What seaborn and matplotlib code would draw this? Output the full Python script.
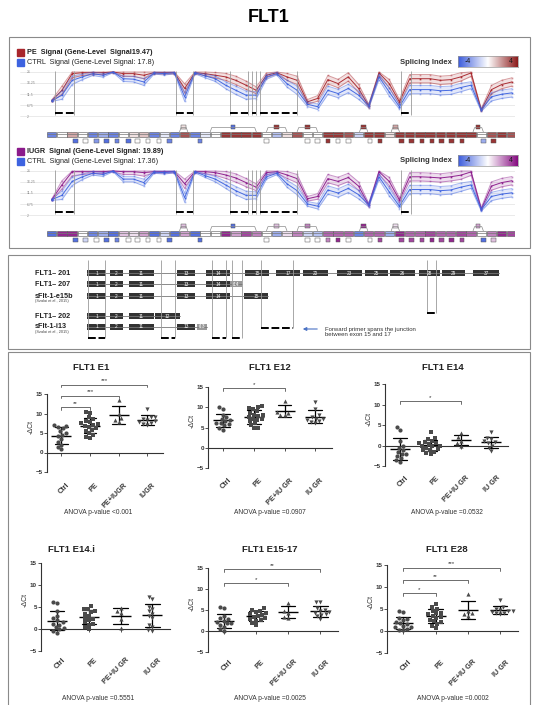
import numpy as np
import pandas as pd
import seaborn as sns
import matplotlib.pyplot as plt
import matplotlib.transforms as mtransforms
from matplotlib.colors import LinearSegmentedColormap
from matplotlib.patches import Rectangle

sns.set_theme(style="white")
plt.rcParams["font.family"] = ["Liberation Sans", "DejaVu Sans"]

W, H = 537, 705

# ---------------- panel A: probe-set signal along FLT1 (46 probe sets) ----------------
pe_signal = [8.6, 13.1, 20.3, 20.7, 20.7, 20.7, 21.0, 20.3, 20.3, 19.6, 20.7, 20.7, 20.7, 13.9, 20.7, 20.3,
             19.6, 18.9, 17.4, 15.3, 13.1, 19.6, 20.7, 18.9, 17.4, 8.1, 9.6, 17.7, 16.0, 18.9, 13.9, 6.3,
             20.6, 16.0, 8.1, 18.1, 18.1, 18.1, 17.4, 17.7, 18.9, 20.6, 4.6, 13.4, 15.6, 16.7]
ctrl_signal_pe = [8.6, 11.0, 17.4, 18.9, 20.3, 19.6, 21.0, 18.1, 17.9, 16.7, 20.6, 20.3, 20.7, 10.3, 20.7, 19.3,
                  18.1, 15.3, 13.1, 11.0, 11.0, 18.9, 20.3, 16.0, 13.1, 7.1, 6.0, 13.1, 11.7, 13.9, 11.0, 6.3,
                  18.9, 12.4, 6.0, 13.4, 13.4, 13.4, 12.9, 13.1, 14.3, 15.3, 4.6, 10.3, 11.4, 12.0]
iugr_signal = [8.6, 15.0, 20.7, 20.7, 20.7, 20.7, 21.0, 20.7, 20.7, 20.3, 20.7, 20.7, 20.7, 15.5, 20.7, 20.7,
               20.3, 19.3, 18.0, 16.0, 14.0, 20.3, 20.7, 19.3, 17.7, 9.0, 10.0, 17.7, 16.5, 18.2, 14.5, 6.3,
               20.7, 16.5, 8.5, 18.5, 18.5, 18.3, 18.0, 18.5, 19.2, 20.6, 4.6, 14.5, 16.0, 16.8]
ctrl_signal_iugr = [8.6, 10.5, 16.5, 18.5, 20.0, 19.5, 21.0, 17.5, 17.5, 16.0, 20.5, 20.3, 20.7, 9.5, 20.7, 19.0,
                    17.5, 15.0, 12.5, 10.5, 10.5, 18.5, 20.0, 15.5, 12.5, 6.8, 5.8, 12.8, 11.5, 13.5, 10.8, 6.3,
                    18.5, 12.0, 5.8, 13.0, 13.0, 13.0, 12.5, 12.8, 14.0, 15.0, 4.3, 10.0, 11.0, 11.6]
probe_spread = [0.3, 1.8, 1.8, 1.2, 0.8, 0.8, 0.3, 1.2, 1.2, 1.5, 0.5, 0.6, 0.5, 2.0, 0.5, 0.8,
                1.2, 1.5, 1.8, 1.8, 1.5, 1.0, 0.6, 1.5, 1.8, 1.0, 1.2, 1.8, 1.8, 1.8, 1.8, 0.8,
                1.2, 1.8, 1.0, 1.8, 1.8, 1.8, 1.8, 1.8, 1.8, 1.5, 0.6, 1.8, 1.8, 1.8]
signal_ticks = [2, 6.75, 11.5, 16.25, 21]

# splicing index of each probe set (main track)
pe_splicing = [-3, 0, 1.5, 0, -3, -2, -3, 0, 0.5, 1, -3, -0.5, -3, 3, -3, -0.5, 0, 3.5, 3.5, 3.5, 3.5, 0,
               -1.5, 0.5, 3, 0, 0, 3.5, 3.5, 3, -1, 3.5, 3.5, 0.5, 3.5, 3.5, 3.5, 3.5, 3.5, 3.5, 3.5, 3.5,
               0, 3, 3.5, 3]
iugr_splicing = [-3.5, 3.5, 3.5, 0, -3, -2, -3.5, 1, 0.5, 1.5, -3.5, -1, -3.5, 1.5, -3.5, 0, 0, 3.5, 1.5, 3,
                 2, 0, -2, 0.5, 2, -1, -1.5, 2.5, 2.5, 2.5, -3, 2.5, 2.5, -2, 3.5, 2.5, 2.5, 3, 2.5, 2.5, 3,
                 2.5, 0, 2, 3.5, 3]
# probe sets drawn below the main track
sub_probe_pos = [2.35, 3.3, 4.4, 5.35, 6.4, 7.5, 8.4, 9.4, 10.5, 11.5, 14.5, 21, 25, 26, 27, 28, 29,
                 31.1, 32.1, 34.2, 35.2, 36.2, 37.2, 38.1, 39.1, 40.1, 42.2, 43.2]
sub_pe_si = [-3.5, 0, -2.5, -3.5, -3, -3.5, 0, 0, 0, -3, -3, 0, 0, 0, 3.5, 0, 0,
             0, 3.5, 3.5, 3.5, 3.5, 3.5, 3.5, 3.5, 3.5, -2, 3.5]
sub_iugr_si = [-3.5, -1, 0, -3.5, -3, 0, 0, 0, 0, -3.5, -3.5, 0, 0, 0, 2, 3.5, 0,
               0, 3, 3, 3, 3, 3.5, 3, 3.5, 3, -3.5, 1]
# alternative probe sets on arcs
arc_start = [12.5, 15.5, 21.0, 24.0, 30.1, 33.2, 41.2]
arc_end = [13.3, 20.0, 23.0, 26.0, 30.9, 34.0, 42.2]
arc_pe_si = [0.5, -3.5, 3.5, 3.5, 3.5, 1.5, 3.5]
arc_iugr_si = [1, -3.5, 1, 2, 3.5, 0.5, 1.5]
primer_spans = [(0.3, 2.15), (12.2, 13.8), (17.4, 19.2), (19.6, 20.0), (20.35, 24.0), (34.2, 35.1)]

# ---------------- panel B: transcripts ----------------
transcript_names = ["FLT1– 201", "FLT1– 207", "sFlt-1-e15b", "FLT1– 202", "sFlt-1-i13"]
transcript_refs = ["", "", "(Szalai et al., 2015)", "", "(Szalai et al., 2015)"]
transcript_exons = [
    ["1", "2", "11", "13", "14", "15", "17", "20", "23", "25", "26", "28", "29", "37"],
    ["1", "2", "11", "13", "14", "i14"],
    ["1", "2", "11", "13", "14", "15b"],
    ["1", "2", "11", "12"],
    ["1", "2", "11", "13", "i13"],
]
exon_start = {"1": 87, "2": 110, "11": 129, "12": 155, "13": 177, "14": 206, "15": 245, "17": 276,
              "20": 303, "23": 337, "25": 365, "26": 390, "28": 419, "29": 442, "37": 473,
              "i14": 230, "15b": 244, "i13": 197}
exon_end = {"1": 106, "2": 123, "11": 154, "12": 180, "13": 195, "14": 230, "15": 269, "17": 300,
            "20": 328, "23": 362, "25": 388, "26": 415, "28": 440, "29": 465, "37": 499,
            "i14": 242, "15b": 268, "i13": 207}
primer_left = [88, 161, 212, 232, 261, 427]
primer_right = [105, 175, 226, 242, 293, 436]

# ---------------- panel C: qPCR -dCt ----------------
groups = ["Ctrl", "PE", "PE+IUGR", "IUGR"]
group_markers = ["o", "s", "^", "v"]

e1_ctrl = [7.0, 6.8, 6.6, 6.3, 5.5, 5.0, 4.6, 4.2, 3.5, 2.6, 2.0, 1.4, 0.8]
e1_pe = [10.5, 10.2, 9.0, 8.5, 8.0, 7.8, 7.5, 7.2, 7.0, 6.8, 6.5, 6.2, 5.8, 5.5, 5.0, 4.5, 4.0, 3.8]
e1_pe_iugr = [13.5, 9.8, 8.8, 8.3, 7.9]
e1_iugr = [11.2, 9.2, 9.0, 8.5, 8.3, 8.0, 7.8, 7.5, 7.2, 7.0]

e12_ctrl = [10.0, 9.5, 8.0, 7.5, 7.0, 6.8, 6.5, 6.2, 6.0, 5.8, 5.5, 5.0, 4.5]
e12_pe = [10.3, 10.0, 9.8, 9.5, 9.0, 8.5, 8.2, 8.0, 7.8, 7.5, 7.2, 7.0, 6.8, 6.5, 6.0, 5.5, 5.0, 4.8]
e12_pe_iugr = [11.6, 8.8, 8.5, 8.2, 8.0]
e12_iugr = [11.2, 9.5, 8.0, 7.5, 7.2, 7.0, 6.8, 6.5, 6.3, 6.2]

e14_ctrl = [4.6, 3.9, 1.0, 0.0, -0.5, -1.0, -1.5, -2.0, -2.0, -2.5, -3.0, -3.5, -4.0]
e14_pe = [3.2, 1.8, 1.5, 1.0, 0.8, 0.6, 0.5, 0.3, 0.0, 0.0, -0.2, -0.5, -0.8, -1.0, -1.2, -1.5, -1.8, -2.0]
e14_pe_iugr = [3.1, 2.0, 1.2, 0.5, 0.0]
e14_iugr = [3.3, 1.8, 1.5, 1.0, 0.8, 0.5, 0.0, -0.5, -1.3]

e14i_ctrl = [6.2, 5.8, 4.0, 3.0, 2.5, 2.0, 1.5, 1.2, 1.0, 0.5, 0.2, 0.0, -0.5, -0.8]
e14i_pe = [5.2, 4.6, 4.5, 4.2, 3.8, 3.5, 3.0, 2.5, 2.2, 2.0, 1.5, 1.2, 1.0, 0.5, 0.0]
e14i_pe_iugr = [4.8, 4.2, 3.6, 2.2, 0.3]
e14i_iugr = [7.2, 6.8, 5.0, 4.5, 4.0, 3.5, 3.0, 2.5, 1.0, 0.5, -0.3, -0.5]

e1517_ctrl = [5.6, 5.5, 3.5, 3.0, 2.8, 2.5, 2.2, 2.0, 1.8, 1.5, 1.0, 0.5, 0.0]
e1517_pe = [5.4, 5.0, 4.8, 4.5, 4.2, 4.0, 3.8, 3.5, 3.3, 3.0, 2.8, 2.5, 2.0, 1.5, 2.6]
e1517_pe_iugr = [6.7, 4.8, 4.3, 3.3, 3.2]
e1517_iugr = [7.0, 6.8, 5.5, 5.0, 4.8, 4.5, 4.3, 4.0, 3.8, 3.5, 2.8]

e28_ctrl = [4.5, 4.4, 3.0, 2.8, 2.5, 2.0, 1.8, 1.5, 1.2, 1.0, 0.8, 0.5, 0.3, 0.2]
e28_pe = [6.2, 5.5, 5.0, 4.6, 4.2, 4.0, 3.8, 3.5, 3.2, 3.0, 2.6, 2.2, 2.0, 1.5, 1.2, 0.6]
e28_pe_iugr = [8.3, 4.5, 4.0, 3.8, 3.5]
e28_iugr = [7.0, 5.5, 5.0, 4.8, 4.6, 4.5, 4.4, 4.2, 4.0, 3.8]

assay_names = ["FLT1 E1", "FLT1 E12", "FLT1 E14", "FLT1 E14.i", "FLT1 E15-17", "FLT1 E28"]
assay_values = [
    [e1_ctrl, e1_pe, e1_pe_iugr, e1_iugr],
    [e12_ctrl, e12_pe, e12_pe_iugr, e12_iugr],
    [e14_ctrl, e14_pe, e14_pe_iugr, e14_iugr],
    [e14i_ctrl, e14i_pe, e14i_pe_iugr, e14i_iugr],
    [e1517_ctrl, e1517_pe, e1517_pe_iugr, e1517_iugr],
    [e28_ctrl, e28_pe, e28_pe_iugr, e28_iugr],
]
assay_brackets = [
    [(0, 1, 11.6, "**"), (0, 2, 14.6, "***"), (0, 3, 17.4, "***")],
    [(0, 2, 14.7, "*")],
    [(0, 2, 10.8, "*")],
    [],
    [(0, 2, 11.4, "*"), (0, 3, 14.8, "**")],
    [(0, 1, 8.6, "*"), (0, 2, 11.6, "**"), (0, 3, 14.4, "***")],
]
anova_text = ["ANOVA p-value <0.001", "ANOVA p-value =0.0907", "ANOVA p-value =0.0532",
              "ANOVA p-value =0.5551", "ANOVA p-value =0.0025", "ANOVA p-value =0.0002"]
tick_e1 = ["Ctrl", "PE", "PE+IUGR", "IUGR"]
tick_other = ["Ctrl", "PE", "PE+IU GR", "IU GR"]

# ---------------- layout helpers ----------------
fig = plt.figure(figsize=(W / 100, H / 100), dpi=100)


def px_rect(x0, y0, x1, y1):
    return [x0 / W, 1 - y1 / H, (x1 - x0) / W, (y1 - y0) / H]


def frame(x0, y0, x1, y1):
    fig.add_artist(Rectangle((x0 / W, 1 - y1 / H), (x1 - x0) / W, (y1 - y0) / H,
                             transform=fig.transFigure, fill=False, edgecolor="#8a8a8a", lw=0.8))


fig.text(0.5, 1 - 18 / H, "FLT1", ha="center", va="center", fontsize=13, fontweight="bold",
         color="black")
frame(9, 37, 530, 248)
frame(8, 255, 530, 349)
frame(8, 352, 530, 712)

ctrl_color = "#3d63e0"
cmap_pe = LinearSegmentedColormap.from_list("pe", ["#3b5bdb", "#ffffff", "#8b1a1a"])
cmap_iugr = LinearSegmentedColormap.from_list("iugr", ["#3b5bdb", "#ffffff", "#850a80"])
probe_idx = np.arange(len(pe_signal))


def si_color(cmap, si):
    return cmap((si + 4) / 8)


def draw_signal(top, case_vals, ctrl_vals, case_color, case_label, ctrl_label, cmap,
                box_si, sub_si, arc_si):
    ax = fig.add_axes(px_rect(20, top - 1.16, 515, top + 45.16))
    ax.set_facecolor("none")
    spread = np.array(probe_spread)
    for vals, color in ((case_vals, case_color), (ctrl_vals, ctrl_color)):
        mean = np.array(vals)
        hi = np.minimum(mean + spread, 21)
        lo = mean - spread
        ax.fill_between(probe_idx, lo, hi, color=color, alpha=0.14, lw=0)
        for line, a in ((hi, 0.45), (lo, 0.45), (mean, 0.95)):
            sns.lineplot(x=probe_idx, y=line, color=color, lw=0.7, alpha=a, marker="s",
                         markersize=1.2, markeredgewidth=0, ax=ax, legend=False)
    ax.set_xlim(-3.1, 45.3)
    ax.set_ylim(1.5, 21.5)
    ax.set_xticks([])
    ax.set_yticks(signal_ticks)
    ax.set_yticklabels([f"{t:g}" for t in signal_ticks])
    ax.yaxis.grid(True, color="#e2e2e2", lw=0.5)
    ax.tick_params(axis="y", length=0, pad=-5, labelsize=2.5, labelcolor="#888888")
    for lab in ax.get_yticklabels():
        lab.set_ha("left")
    for s in ax.spines.values():
        s.set_visible(False)
    for s, e in primer_spans:
        ax.vlines([s, e], 2.6, 21.5, color="#9a9a9a", lw=0.6)
        ax.plot([s, e], [3.3, 3.3], color="black", lw=1.4, dashes=(4, 1.6), solid_capstyle="butt")

    # exon / probe-set track
    axb = fig.add_axes(px_rect(20, top + 50, 515, top + 74))
    axb.set_xlim(-3.1, 45.3)
    axb.set_ylim(24, 0)
    axb.axis("off")
    axb.plot([-0.5, len(box_si) - 0.5], [12.5, 12.5], color="#777777", lw=0.5)
    for i, si in enumerate(box_si):
        axb.add_patch(Rectangle((i - 0.46, 9.7), 0.92, 5.6, facecolor=si_color(cmap, si),
                                edgecolor="#555555", lw=0.4))
    for p, si in zip(sub_probe_pos, sub_si):
        axb.add_patch(Rectangle((p - 0.22, 16.6), 0.44, 4.0, facecolor=si_color(cmap, si),
                                edgecolor="#555555", lw=0.35))
    for s, e, si in zip(arc_start, arc_end, arc_si):
        axb.plot([s, s + 0.15, e - 0.15, e], [9.7, 5.6, 5.6, 9.7], color="#8a8a8a", lw=0.5)
        c = (s + e) / 2
        axb.add_patch(Rectangle((c - 0.22, 3.0), 0.44, 4.0, facecolor=si_color(cmap, si),
                                edgecolor="#555555", lw=0.35))

    # legend
    for dy, color, label, weight in ((-19.5, case_color, case_label, "bold"),
                                     (-9.5, ctrl_color, ctrl_label, "normal")):
        fig.add_artist(Rectangle((17 / W, 1 - (top + dy + 3.4) / H), 7 / W, 6.8 / H,
                                 transform=fig.transFigure, color=color))
        fig.text(27 / W, 1 - (top + dy) / H, label, fontsize=5.2, va="center",
                 fontweight=weight, color="#222222")
    fig.text(452 / W, 1 - (top - 10) / H, "Splicing Index", ha="right", va="center",
             fontsize=5.5, fontweight="bold", color="#333333")
    axc = fig.add_axes(px_rect(458, top - 16, 518, top - 5))
    axc.imshow(np.linspace(-4, 4, 256)[None, :], cmap=cmap, aspect="auto")
    axc.set_xticks([])
    axc.set_yticks([])
    for s in axc.spines.values():
        s.set_color("#999999")
        s.set_linewidth(0.5)
    axc.text(0.16, 0.5, "-4", transform=axc.transAxes, fontsize=5, va="center", ha="center",
             color="#1a1a1a")
    axc.text(0.88, 0.5, "4", transform=axc.transAxes, fontsize=5, va="center", ha="center",
             color="#1a1a1a")


draw_signal(72, pe_signal, ctrl_signal_pe, "#a8262c", "PE  Signal (Gene-Level  Signal19.47)",
            "CTRL  Signal (Gene-Level Signal: 17.8)", cmap_pe, pe_splicing, sub_pe_si, arc_pe_si)
draw_signal(171, iugr_signal, ctrl_signal_iugr, "#8b1a8b", "IUGR  Signal (Gene-Level Signal: 19.89)",
            "CTRL  Signal (Gene-Level Signal: 17.36)", cmap_iugr, iugr_splicing, sub_iugr_si,
            arc_iugr_si)

# ---------------- panel B ----------------
axB = fig.add_axes(px_rect(8, 255, 530, 349))
axB.set_xlim(8, 530)
axB.set_ylim(349, 255)
axB.axis("off")
row_y = [273, 284, 296, 316, 327]
for name, ref, exons, y in zip(transcript_names, transcript_refs, transcript_exons, row_y):
    axB.text(35, y, name, fontsize=5.2, fontweight="bold", va="center", color="#222222")
    if ref:
        axB.text(35, y + 4.8, ref, fontsize=2.8, va="center", color="#444444")
    axB.plot([exon_start[exons[0]], exon_end[exons[-1]]], [y, y], color="#777777", lw=0.6)
    for ex in exons:
        light = ex.startswith("i")
        axB.add_patch(Rectangle((exon_start[ex], y - 3), exon_end[ex] - exon_start[ex], 6,
                                facecolor="#9a9a9a" if light else "#333333", edgecolor="none"))
        axB.text((exon_start[ex] + exon_end[ex]) / 2, y, ex.replace("b", ""), fontsize=3.4,
                 color="white", ha="center", va="center")
primer_depth = [338, 338, 338, 338, 328, 313]
for l, r, d in zip(primer_left, primer_right, primer_depth):
    axB.vlines([l, r], 260, d, color="#9a9a9a", lw=0.6)
    axB.plot([l, r], [d, d], color="black", lw=1.4, dashes=(4, 1.4), solid_capstyle="butt")
axB.annotate("", xy=(300, 329), xytext=(320, 329),
             arrowprops=dict(arrowstyle="-|>", color="#4a72c4", lw=0.8, mutation_scale=5))
axB.text(325, 329, "Forward primer spans the junction", fontsize=4.3, va="center", color="#333333")
axB.text(325, 334.5, "between exon 15 and 17", fontsize=4.3, va="center", color="#333333")

# ---------------- panel C ----------------
c_frames = [(47, 394, 163, 472), (208, 387, 332, 468), (385, 384, 508, 466),
            (41, 563, 170, 651), (208, 568, 338, 652), (387, 565, 518, 653)]
title_pos = [(91, 368), (270, 367), (443, 368), (71, 549), (270, 549), (447, 549)]
anova_pos = [(98, 513), (270, 513), (447, 513), (98, 698), (270, 698), (453, 698)]
label_pad = [19, 19, 19, 18, 18, 18]

for k in range(6):
    left, y15, right, ym5 = c_frames[k]
    ppu = (ym5 - y15) / 20
    ax = fig.add_axes(px_rect(left, y15 - 4 * ppu, right, ym5 + ppu))
    ax.set_facecolor("none")
    vals = assay_values[k]
    df = pd.DataFrame({"group": np.repeat(groups, [len(v) for v in vals]),
                       "dct": np.concatenate(vals)})
    for g, m in zip(groups, group_markers):
        sns.swarmplot(data=df[df["group"] == g], x="group", y="dct", order=groups, marker=m,
                      size=3.0, color="#4a4a4a", linewidth=0, ax=ax, warn_thresh=1)
    sns.pointplot(data=df, x="group", y="dct", order=groups, errorbar="sd", capsize=0.45,
                  color="black", marker="_", markersize=14, markeredgewidth=1,
                  linestyle="none", err_kws={"linewidth": 0.9}, ax=ax)
    for a, b, y, lab in assay_brackets[k]:
        ax.plot([a, a, b, b], [y - 0.7, y, y, y - 0.7], color="#555555", lw=0.6, clip_on=False)
        ax.text((a + b) / 2, y + 0.3, lab, ha="center", va="bottom", fontsize=4.5, color="#333333")
    ax.set_xlim(-0.5, 3.55)
    ax.set_ylim(-6, 19)
    ax.set_yticks([-5, 0, 5, 10, 15])
    ax.set_xlabel("")
    ax.set_ylabel("-ΔCt", fontsize=5, labelpad=1, color="#333333")
    sns.despine(ax=ax)
    ax.spines["left"].set_bounds(-5, 15)
    ax.spines["bottom"].set_position(("data", 0))
    for s in ("left", "bottom"):
        ax.spines[s].set_linewidth(0.8)
        ax.spines[s].set_color("#333333")
    ax.tick_params(axis="y", left=True, length=2, width=0.6, labelsize=4.5, pad=1,
                   colors="#333333")
    ax.tick_params(axis="x", bottom=True, length=2, width=0.6, labelsize=5.2, pad=label_pad[k],
                   colors="#333333")
    ax.set_xticks(range(4))
    ax.set_xticklabels(tick_e1 if k == 0 else tick_other)
    shift = mtransforms.ScaledTranslation(0.05, 0, fig.dpi_scale_trans)
    for lab in ax.get_xticklabels():
        lab.set_rotation(45)
        lab.set_ha("right")
        lab.set_rotation_mode("anchor")
        lab.set_fontweight("bold")
        lab.set_transform(lab.get_transform() + shift)
    for lab in ax.get_yticklabels():
        lab.set_fontweight("bold")
    tx, ty = title_pos[k]
    fig.text(tx / W, 1 - ty / H, assay_names[k], ha="center", va="center", fontsize=6.8,
             fontweight="bold", color="#222222")
    ax_, ay_ = anova_pos[k]
    fig.text(ax_ / W, 1 - ay_ / H, anova_text[k], ha="center", va="center", fontsize=4.8,
             color="#333333")

fig.savefig("out.png", dpi=100)
